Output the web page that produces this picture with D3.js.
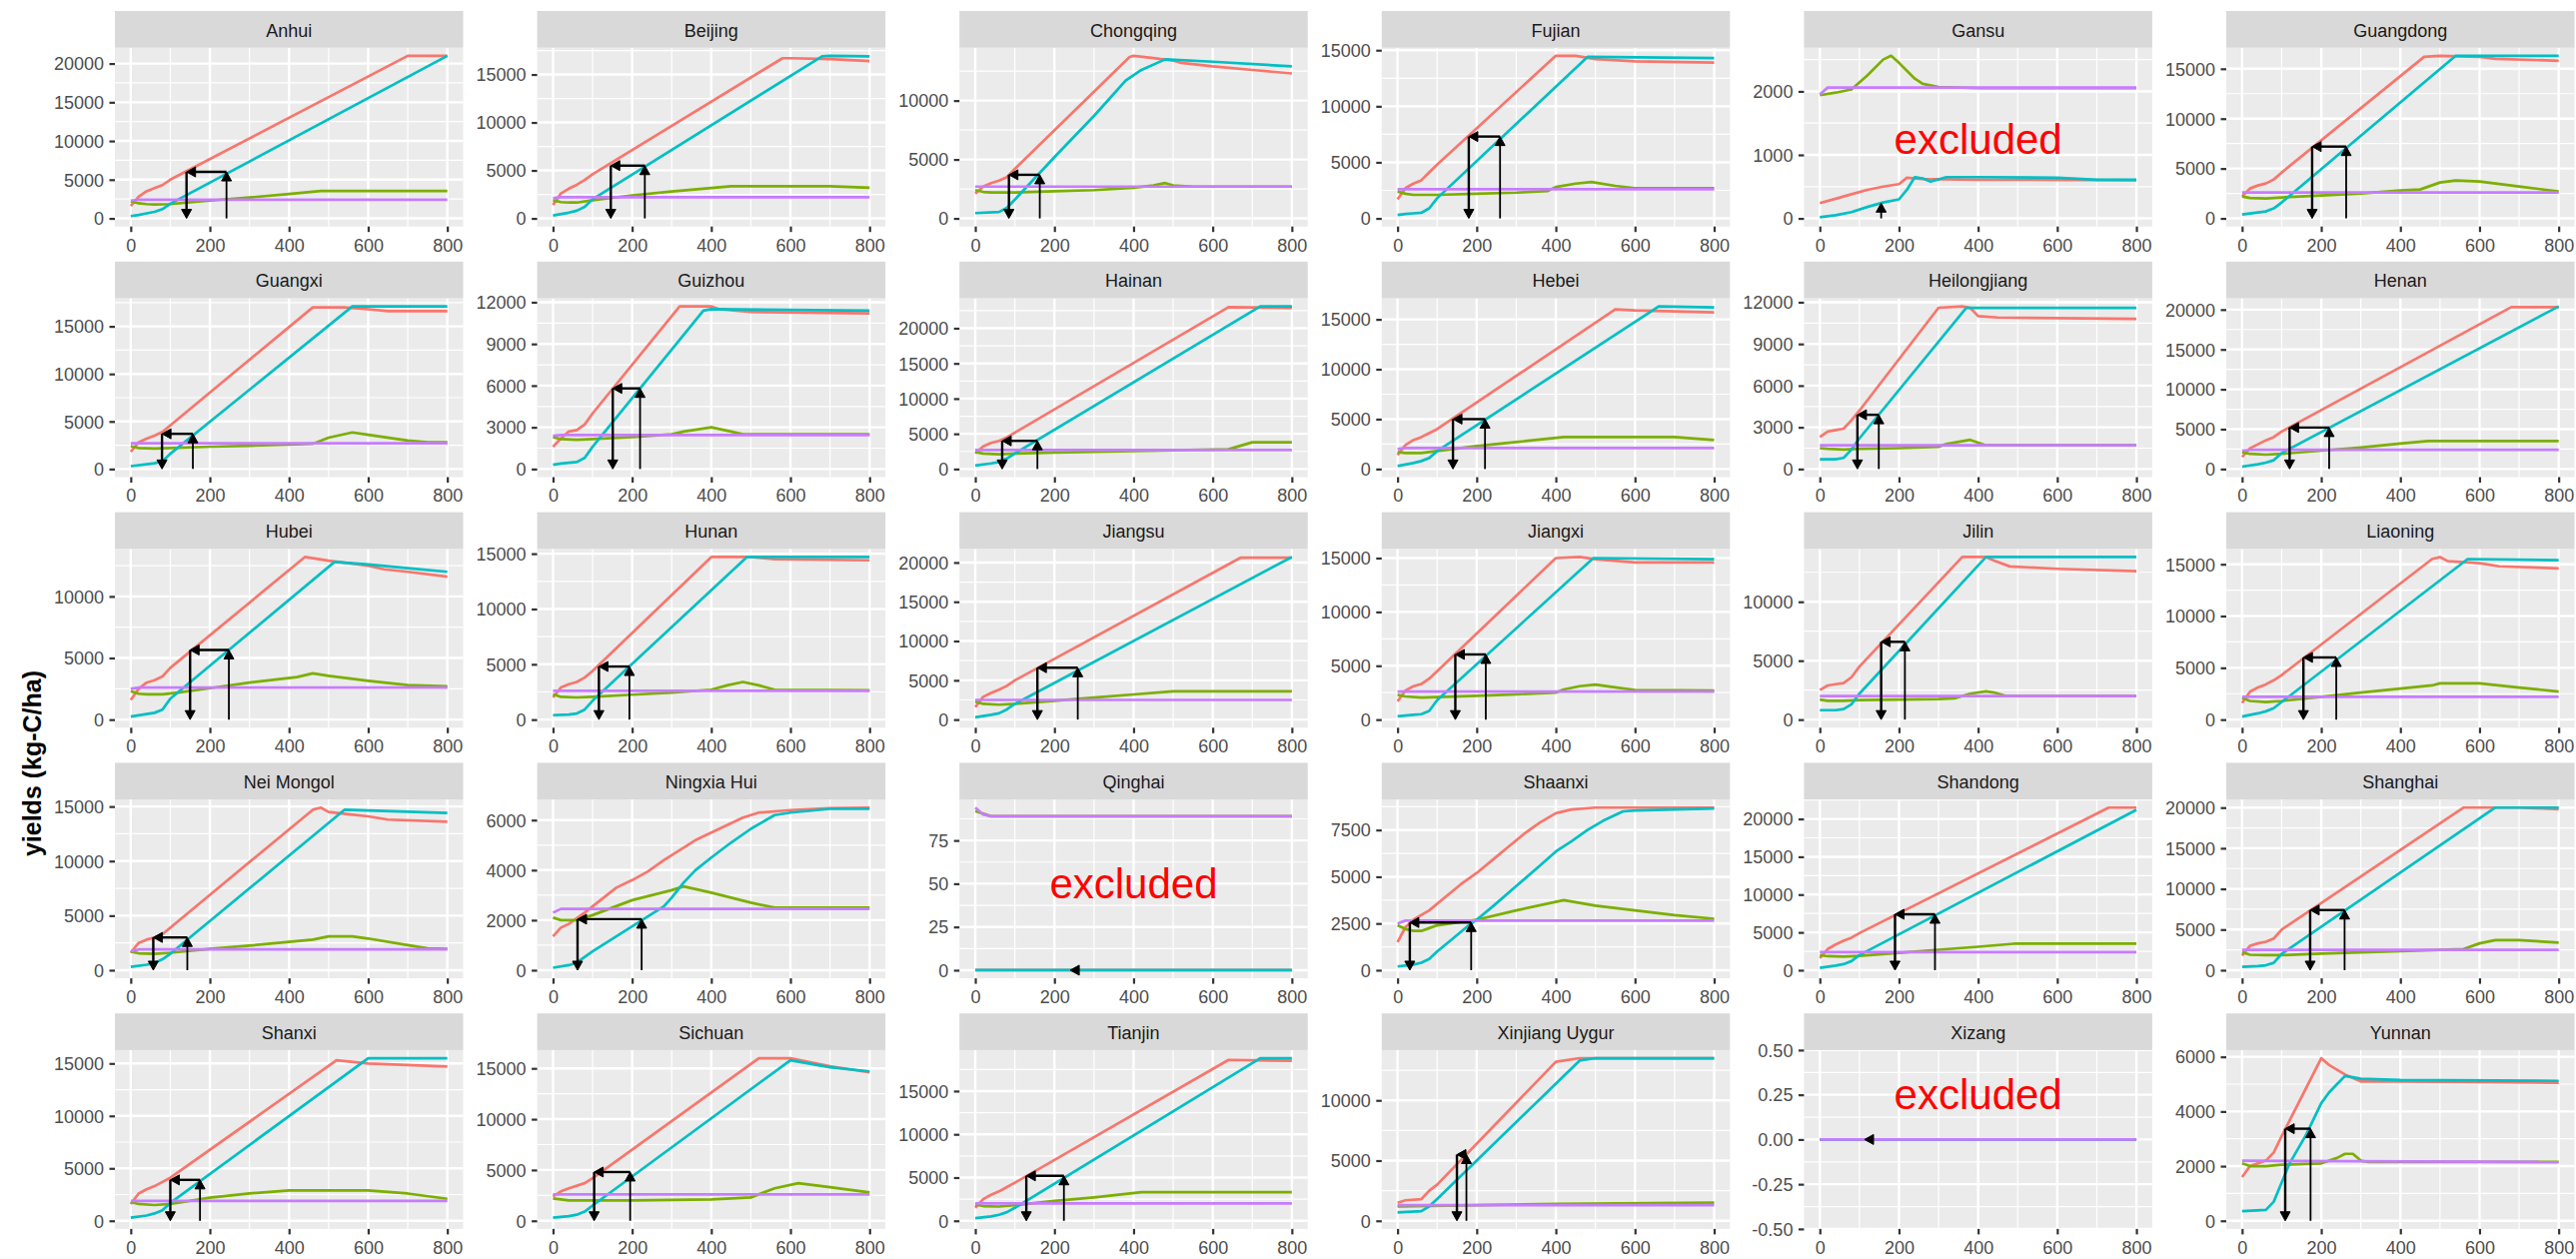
<!DOCTYPE html>
<html><head><meta charset="utf-8">
<script src="https://cdn.jsdelivr.net/npm/d3@7"></script>
<style>body{margin:0;background:#fff}svg{display:block}</style>
</head><body>
<svg id="c" width="2578" height="1260"></svg>
<script>
const provinces = ["Anhui","Beijing","Chongqing","Fujian","Gansu","Guangdong","Guangxi","Guizhou","Hainan","Hebei","Heilongjiang","Henan","Hubei","Hunan","Jiangsu","Jiangxi","Jilin","Liaoning","Nei Mongol","Ningxia Hui","Qinghai","Shaanxi","Shandong","Shanghai","Shanxi","Sichuan","Tianjin","Xinjiang Uygur","Xizang","Yunnan"];

const xTicks = [0,200,400,600,800];

const yTickLabels = [
 ["0","5000","10000","15000","20000"],["0","5000","10000","15000"],["0","5000","10000"],["0","5000","10000","15000"],["0","1000","2000"],["0","5000","10000","15000"],
 ["0","5000","10000","15000"],["0","3000","6000","9000","12000"],["0","5000","10000","15000","20000"],["0","5000","10000","15000"],["0","3000","6000","9000","12000"],["0","5000","10000","15000","20000"],
 ["0","5000","10000"],["0","5000","10000","15000"],["0","5000","10000","15000","20000"],["0","5000","10000","15000"],["0","5000","10000"],["0","5000","10000","15000"],
 ["0","5000","10000","15000"],["0","2000","4000","6000"],["0","25","50","75"],["0","2500","5000","7500"],["0","5000","10000","15000","20000"],["0","5000","10000","15000","20000"],
 ["0","5000","10000","15000"],["0","5000","10000","15000"],["0","5000","10000","15000"],["0","5000","10000"],["-0.50","-0.25","0.00","0.25","0.50"],["0","2000","4000","6000"]
];

const redSeries = [
 [[0,1600],[20,2800],[40,3500],[60,3900],[80,4300],[100,5000],[700,21000],[800,21000]],
 [[0,1400],[20,2600],[40,3100],[60,3500],[80,4000],[100,4600],[580,16700],[600,16700],[700,16600],[800,16400]],
 [[0,2100],[20,2700],[40,3000],[60,3200],[80,3500],[100,4200],[390,13700],[400,13800],[450,13600],[500,13400],[520,13200],[600,12900],[700,12600],[800,12300]],
 [[0,1700],[20,2700],[40,3100],[60,3400],[80,4100],[100,4800],[400,14500],[450,14500],[500,14200],[600,14000],[800,13900]],
 [[0,240],[40,310],[80,380],[120,450],[160,500],[200,540],[220,640],[260,620],[400,610],[800,600]],
 [[0,2200],[20,3000],[40,3300],[60,3500],[80,3900],[100,4600],[460,16200],[500,16300],[600,16200],[640,16000],[800,15800]],
 [[0,1800],[20,2800],[40,3200],[60,3500],[80,3900],[460,17000],[540,17000],[600,16800],[650,16600],[800,16600]],
 [[0,1600],[20,2200],[40,2700],[60,2800],[80,3200],[100,4000],[320,11700],[400,11700],[420,11500],[500,11300],[800,11200]],
 [[0,2200],[20,3200],[40,3700],[60,4000],[80,4500],[640,23000],[800,22900]],
 [[0,1400],[20,2400],[40,2900],[60,3200],[80,3600],[100,4000],[550,16000],[600,15900],[700,15800],[800,15700]],
 [[0,2300],[20,2700],[40,2800],[60,2900],[80,3500],[100,4200],[300,11600],[360,11700],[380,11600],[400,11000],[450,10900],[800,10800]],
 [[0,1500],[20,2600],[40,3100],[60,3600],[80,4000],[100,4700],[680,20300],[800,20300]],
 [[0,1600],[20,2500],[40,3000],[60,3200],[80,3500],[100,4200],[440,13200],[500,12900],[600,12500],[640,12200],[700,12000],[800,11600]],
 [[0,2000],[20,2900],[40,3200],[60,3400],[80,3800],[100,4400],[400,14700],[500,14700],[560,14500],[800,14400]],
 [[0,1600],[20,2900],[40,3400],[60,3800],[80,4300],[100,5000],[670,20600],[800,20600]],
 [[0,1700],[20,2700],[40,3100],[60,3300],[80,3800],[100,4500],[400,15000],[460,15100],[500,14900],[600,14600],[800,14600]],
 [[0,2500],[20,2900],[40,3000],[60,3100],[80,3600],[100,4500],[360,13800],[420,13800],[440,13500],[480,13000],[600,12800],[800,12600]],
 [[0,1600],[20,2700],[40,3100],[60,3400],[80,3800],[100,4300],[480,15500],[500,15700],[520,15300],[600,15100],[650,14800],[800,14600]],
 [[0,1600],[20,2500],[40,2800],[60,3000],[80,3300],[460,14700],[480,14900],[500,14500],[550,14300],[600,14100],[650,13800],[800,13600]],
 [[0,1350],[20,1700],[40,1850],[80,2300],[120,2800],[160,3300],[200,3600],[240,3950],[280,4400],[320,4800],[360,5200],[400,5500],[440,5800],[480,6100],[520,6300],[600,6400],[700,6480],[800,6500]],
 [[0,0],[800,0]],
 [[0,1500],[20,2300],[40,2700],[80,3200],[120,3900],[160,4600],[200,5200],[240,5900],[280,6600],[320,7300],[360,7900],[400,8400],[440,8600],[500,8700],[800,8700]],
 [[0,1600],[20,2800],[40,3400],[60,3900],[80,4300],[100,4900],[730,21500],[800,21500]],
 [[0,1800],[20,3000],[40,3300],[60,3500],[80,3900],[100,5000],[560,20000],[700,20000],[800,19800]],
 [[0,1600],[20,2600],[40,3000],[60,3300],[80,3700],[100,4100],[520,15300],[600,15000],[800,14700]],
 [[0,2400],[20,2900],[40,3200],[80,3700],[100,4200],[520,16000],[600,16000],[700,15200],[800,14600]],
 [[0,1500],[20,2500],[40,3000],[60,3400],[80,3900],[100,4400],[640,18600],[800,18500]],
 [[0,1500],[20,1700],[60,1800],[80,2500],[100,3000],[400,13200],[460,13500],[800,13500]],
 [[0,0],[800,0]],
 [[0,1600],[20,2000],[40,2100],[60,2200],[80,2500],[100,3100],[200,5950],[220,5700],[260,5350],[300,5100],[400,5100],[800,5050]]
];

const cyanSeries = [
 [[0,300],[20,450],[40,650],[60,850],[80,1200],[100,1900],[800,21000]],
 [[0,300],[40,600],[60,800],[80,1200],[100,2000],[680,16900],[700,16950],[800,16900]],
 [[0,450],[60,550],[80,900],[100,1600],[200,5200],[300,8700],[380,11700],[420,12600],[480,13500],[600,13300],[800,12900]],
 [[0,300],[20,400],[40,450],[60,500],[80,900],[100,1800],[480,14400],[800,14300]],
 [[0,20],[40,50],[80,100],[120,180],[160,250],[200,300],[220,450],[240,650],[260,630],[280,580],[320,650],[400,650],[600,640],[700,610],[800,610]],
 [[0,400],[40,600],[60,700],[80,1000],[100,1600],[540,16300],[800,16300]],
 [[0,300],[40,500],[60,600],[80,800],[100,1600],[560,17100],[800,17100]],
 [[0,300],[20,400],[40,450],[60,500],[80,800],[100,1600],[380,11400],[400,11500],[800,11400]],
 [[0,500],[40,800],[60,1000],[80,1500],[100,2200],[720,23100],[800,23100]],
 [[0,300],[40,600],[60,800],[80,1100],[100,1800],[660,16300],[800,16200]],
 [[0,700],[40,700],[60,800],[80,1400],[100,2200],[370,11600],[800,11600]],
 [[0,300],[40,600],[60,800],[80,1100],[100,2000],[800,20400]],
 [[0,250],[40,450],[60,550],[80,800],[100,1700],[515,12800],[600,12600],[700,12300],[800,12000]],
 [[0,400],[40,450],[60,550],[80,900],[100,1700],[490,14700],[800,14700]],
 [[0,300],[40,600],[60,800],[80,1300],[100,2000],[800,20700]],
 [[0,300],[40,450],[60,500],[80,800],[100,1800],[495,15000],[800,14900]],
 [[0,800],[40,800],[60,900],[80,1300],[100,2200],[420,13800],[800,13800]],
 [[0,300],[40,600],[60,800],[80,1100],[100,1700],[570,15500],[800,15400]],
 [[0,300],[40,500],[60,650],[80,1000],[100,1500],[540,14700],[800,14400]],
 [[0,100],[40,200],[60,300],[100,750],[150,1250],[200,1750],[240,2150],[280,2550],[300,2900],[330,3500],[360,4000],[400,4500],[450,5100],[500,5650],[560,6200],[600,6300],[700,6450],[800,6450]],
 [[0,0],[800,0]],
 [[0,200],[40,300],[60,400],[80,600],[100,1000],[140,1700],[180,2400],[200,2700],[240,3400],[300,4500],[360,5600],[400,6350],[440,6900],[480,7500],[520,8000],[570,8500],[600,8550],[800,8650]],
 [[0,300],[40,600],[60,800],[80,1200],[100,2000],[800,21200]],
 [[0,400],[40,500],[60,600],[80,900],[100,2000],[640,20000],[800,20000]],
 [[0,300],[40,500],[60,700],[80,1000],[100,1700],[600,15500],[800,15500]],
 [[0,300],[40,450],[60,600],[80,900],[100,1500],[600,15800],[700,15100],[800,14700]],
 [[0,300],[40,500],[60,700],[80,1000],[100,1500],[720,18800],[800,18800]],
 [[0,700],[60,800],[80,1200],[100,1800],[460,13300],[500,13500],[800,13500]],
 [[0,0],[800,0]],
 [[0,350],[60,400],[80,700],[100,1400],[120,2100],[140,2600],[160,3100],[180,3700],[200,4300],[220,4700],[240,5000],[260,5300],[280,5250],[300,5200],[400,5150],[800,5120]]
];

const greenSeries = [
 [[0,2200],[20,1950],[40,1850],[60,1800],[100,1850],[150,2100],[200,2300],[300,2700],[400,3150],[480,3550],[800,3550]],
 [[0,1900],[20,1700],[40,1650],[60,1650],[100,1900],[200,2400],[300,2800],[450,3350],[700,3350],[800,3200]],
 [[0,2400],[20,2250],[40,2200],[100,2200],[200,2300],[300,2400],[400,2600],[450,2800],[480,3000],[500,2800],[550,2700],[800,2700]],
 [[0,2400],[20,2200],[40,2100],[100,2100],[200,2200],[300,2300],[380,2450],[400,2800],[450,3100],[490,3250],[550,2900],[600,2700],[800,2700]],
 [[0,1940],[40,1980],[80,2030],[120,2250],[160,2500],[180,2560],[200,2450],[240,2200],[260,2120],[300,2070],[400,2050],[800,2050]],
 [[0,2200],[20,2050],[60,2000],[100,2100],[200,2300],[300,2500],[400,2800],[450,2900],[500,3600],[540,3800],[600,3700],[700,3200],[800,2700]],
 [[0,2400],[20,2200],[60,2150],[100,2200],[200,2350],[300,2450],[460,2650],[500,3300],[560,3850],[600,3600],[700,3000],[750,2800],[800,2800]],
 [[0,2300],[20,2150],[60,2100],[100,2150],[200,2300],[300,2500],[330,2700],[400,3000],[450,2700],[480,2500],[800,2500]],
 [[0,2400],[20,2200],[60,2100],[100,2200],[200,2350],[400,2550],[640,2800],[700,3800],[800,3800]],
 [[0,1700],[20,1600],[60,1600],[100,1800],[200,2300],[300,2700],[420,3200],[700,3200],[800,2900]],
 [[0,1500],[20,1450],[60,1400],[100,1450],[200,1500],[300,1600],[320,1800],[380,2100],[400,1900],[420,1700],[800,1700]],
 [[0,2100],[20,1900],[60,1800],[100,1900],[200,2300],[300,2700],[400,3200],[470,3500],[800,3500]],
 [[0,2300],[20,2100],[40,2050],[80,2050],[120,2200],[200,2550],[300,3000],[420,3450],[460,3750],[500,3550],[600,3150],[700,2800],[800,2700]],
 [[0,2300],[20,2050],[60,2000],[100,2050],[200,2250],[300,2450],[400,2700],[440,3100],[480,3400],[520,3100],[560,2700],[800,2650]],
 [[0,2300],[20,2000],[60,1900],[100,2000],[200,2400],[300,2800],[400,3200],[500,3600],[800,3600]],
 [[0,2300],[20,2150],[60,2050],[100,2100],[200,2200],[300,2350],[400,2500],[420,2800],[460,3100],[500,3250],[540,3050],[600,2750],[800,2700]],
 [[0,1700],[20,1600],[60,1600],[100,1650],[200,1700],[300,1750],[340,1800],[380,2200],[420,2400],[440,2300],[470,2000],[800,2000]],
 [[0,2100],[20,1800],[60,1700],[100,1800],[200,2200],[300,2600],[400,3000],[480,3300],[500,3500],[600,3500],[700,3100],[800,2700]],
 [[0,1700],[20,1550],[60,1500],[100,1600],[200,1950],[300,2250],[400,2600],[460,2800],[500,3100],[560,3100],[600,2900],[700,2300],[750,2000],[800,1950]],
 [[0,2100],[20,2000],[60,2000],[100,2200],[200,2800],[300,3200],[330,3350],[400,3100],[500,2700],[560,2500],[800,2500]],
 [[0,92],[40,89],[800,89]],
 [[0,2400],[20,2200],[40,2100],[60,2100],[80,2250],[100,2400],[200,2700],[300,3200],[420,3750],[500,3450],[600,3200],[700,2950],[800,2750]],
 [[0,2000],[20,1850],[60,1800],[100,1900],[200,2300],[300,2700],[400,3100],[490,3500],[800,3500]],
 [[0,2200],[20,1900],[60,1850],[100,1850],[200,2050],[300,2200],[400,2350],[560,2600],[600,3300],[640,3700],[700,3700],[800,3400]],
 [[0,1800],[20,1600],[60,1500],[100,1600],[200,2200],[300,2600],[400,2900],[600,2900],[700,2600],[800,2100]],
 [[0,2200],[40,2000],[100,2000],[200,2000],[400,2100],[500,2300],[560,3200],[620,3700],[700,3300],[800,2800]],
 [[0,1900],[20,1700],[60,1650],[100,1800],[200,2300],[300,2700],[420,3300],[800,3300]],
 [[0,1200],[200,1300],[400,1400],[800,1500]],
 [[0,0],[800,0]],
 [[0,2100],[20,2000],[60,2000],[100,2050],[200,2100],[240,2300],[260,2450],[280,2450],[300,2200],[320,2150],[800,2150]]
];

const purpleSeries = [
 [[0,2300],[20,2400],[800,2400]],[[0,2100],[20,2200],[800,2200]],[[0,2700],[800,2700]],[[0,2600],[800,2600]],[[0,1950],[20,2060],[800,2060]],[[0,2600],[800,2600]],
 [[0,2700],[800,2700]],[[0,2400],[20,2450],[800,2450]],[[0,2700],[800,2700]],[[0,2000],[20,2100],[800,2100]],[[0,1700],[800,1700]],[[0,2300],[20,2400],[800,2400]],
 [[0,2500],[20,2600],[800,2600]],[[0,2600],[800,2600]],[[0,2500],[800,2500]],[[0,2600],[800,2600]],[[0,2000],[800,2000]],[[0,2200],[800,2200]],
 [[0,1750],[20,1900],[800,1900]],[[0,2300],[20,2450],[800,2450]],[[0,94],[20,90],[40,89],[800,89]],[[0,2500],[20,2650],[800,2650]],[[0,2400],[800,2400]],[[0,2500],[800,2500]],
 [[0,1900],[800,1900]],[[0,2600],[800,2600]],[[0,2000],[800,2000]],[[0,1300],[800,1300]],[[0,0],[800,0]],[[0,2200],[800,2150]]
];

// arrows: kind, left x, right x, level
const arrowKind = ["full","full","full","full","up","full","full","full","full","full","full","full","full","full","full","full","full","full","full","full","left","full","full","full","full","full","full","full","left","full"];
const arrowLeftX = [141,146,85,180,155,177,79,151,68,140,95,120,150,116,157,146,155,155,57,62,240,31,190,172,100,104,129,150,113,109];
const arrowRightX = [242,232,163,259,155,263,157,220,157,221,149,220,248,193,259,223,215,238,143,224,240,186,291,259,175,195,224,174,113,173];
const arrowLevel = [6000,5500,3700,7300,240,7200,3700,5800,4000,5000,3900,5200,5650,4800,6600,6050,6600,6000,3000,2040,0,2550,7400,7400,3900,4800,5200,5500,0,3370];

const excludedY = [null,null,null,null,1250,null,null,null,null,null,null,null,null,null,null,null,null,null,null,null,50,null,null,null,null,null,null,null,0.25,null];

const colors = {red:"#F8766D", green:"#7CAE00", cyan:"#00BFC4", purple:"#C77CFF"};

// ---- layout ----
const LEFT0=115, COLP=422.6, PW=348.5, TOP0=11, ROWP=250.8, STRIPH=36.7, PH=179;
const FAM='"Liberation Sans", Arial, Helvetica, sans-serif';
const svg=d3.select("#c");
svg.append("rect").attr("width",2578).attr("height",1260).attr("fill","#fff");

function arrow(g,x0,y0,x1,y1,w){
  const L=9, hw=5;
  const dx=x1-x0, dy=y1-y0, len=Math.hypot(dx,dy);
  let ux=-1,uy=0; if(len>0.01){ux=dx/len;uy=dy/len;}
  if(len>L){
    g.append("line").attr("x1",x0).attr("y1",y0).attr("x2",x1-ux*L*0.6).attr("y2",y1-uy*L*0.6)
     .attr("stroke","#000").attr("stroke-width",w);
  }
  const bx=x1-ux*L, by=y1-uy*L;
  g.append("path").attr("d",`M${x1},${y1}L${bx-uy*hw},${by+ux*hw}L${bx+uy*hw},${by-ux*hw}Z`)
   .attr("fill","#000").attr("stroke","#000").attr("stroke-width",1).attr("stroke-linejoin","miter");
}

provinces.forEach((name,i)=>{
  const r=Math.floor(i/6), c=i%6;
  const px=LEFT0+c*COLP, sy=TOP0+r*ROWP, py=sy+STRIPH;
  const g=svg.append("g");
  const x=d3.scaleLinear().domain([-40,840]).range([px,px+PW]);
  const labels=yTickLabels[i], tvals=labels.map(Number);
  const vals=[...redSeries[i],...greenSeries[i],...cyanSeries[i],...purpleSeries[i]].map(d=>d[1]);
  if(arrowKind[i]!=="none"){vals.push(0,arrowLevel[i]);}
  const lo=d3.min(vals), hi=d3.max(vals);
  const dom = (hi-lo===0)?[lo-0.5,hi+0.5]:[lo-(hi-lo)*0.05, hi+(hi-lo)*0.05];
  const y=d3.scaleLinear().domain(dom).range([py+PH,py]);

  g.append("rect").attr("x",px).attr("y",py).attr("width",PW).attr("height",PH).attr("fill","#EBEBEB");
  const step=tvals[1]-tvals[0];
  const ext=[tvals[0]-step,...tvals,tvals[tvals.length-1]+step];
  const yMinor=[]; for(let k=0;k<ext.length-1;k++){const m=(ext[k]+ext[k+1])/2; if(m>dom[0]&&m<dom[1]) yMinor.push(m);}
  const xMinor=[100,300,500,700];
  g.selectAll(null).data(yMinor).join("line").attr("x1",px).attr("x2",px+PW).attr("y1",d=>y(d)).attr("y2",d=>y(d)).attr("stroke","#fff").attr("stroke-width",1.2);
  g.selectAll(null).data(xMinor).join("line").attr("y1",py).attr("y2",py+PH).attr("x1",d=>x(d)).attr("x2",d=>x(d)).attr("stroke","#fff").attr("stroke-width",1.2);
  g.selectAll(null).data(tvals).join("line").attr("x1",px).attr("x2",px+PW).attr("y1",d=>y(d)).attr("y2",d=>y(d)).attr("stroke","#fff").attr("stroke-width",2.4);
  g.selectAll(null).data(xTicks).join("line").attr("y1",py).attr("y2",py+PH).attr("x1",d=>x(d)).attr("x2",d=>x(d)).attr("stroke","#fff").attr("stroke-width",2.4);

  const line=d3.line().x(d=>x(d[0])).y(d=>y(d[1]));
  [["red",redSeries],["green",greenSeries],["cyan",cyanSeries],["purple",purpleSeries]].forEach(([k,s])=>{
    g.append("path").attr("d",line(s[i])).attr("fill","none").attr("stroke",colors[k]).attr("stroke-width",2.7).attr("stroke-linejoin","round");
  });

  const kind=arrowKind[i], xl=x(arrowLeftX[i]), xr=x(arrowRightX[i]), yl=y(arrowLevel[i]), y0=y(0);
  if(kind==="full"){
    arrow(g,xr,y0,xr,yl,1.8);
    arrow(g,xr,yl,xl,yl,2.4);
    arrow(g,xl,yl,xl,y0,2.4);
  } else if(kind==="up"){
    arrow(g,xr,y0,xr,yl,1.8);
  } else if(kind==="left"){
    arrow(g,xl+1,yl,xl,yl,2.4);
  }

  if(excludedY[i]!==null){
    g.append("text").attr("x",x(400)).attr("y",y(excludedY[i])).attr("text-anchor","middle")
     .attr("dominant-baseline","central").attr("font-family",FAM).attr("font-size",42).attr("fill","#FF0000").text("excluded");
  }

  g.append("rect").attr("x",px).attr("y",sy).attr("width",PW).attr("height",STRIPH).attr("fill","#D9D9D9");
  g.append("text").attr("x",px+PW/2).attr("y",sy+25.6).attr("text-anchor","middle").attr("font-family",FAM)
   .attr("font-size",18).attr("fill","#1A1A1A").text(name);

  const ya=g.append("g").attr("transform",`translate(${px},0)`)
    .call(d3.axisLeft(y).tickValues(tvals).tickFormat((d,j)=>labels[j]).tickSize(5.5).tickPadding(5.5));
  ya.select(".domain").remove();
  ya.selectAll("line").attr("stroke","#333333").attr("stroke-width",2.2);
  ya.selectAll("text").attr("font-family",FAM).attr("font-size",18).attr("fill","#4D4D4D").attr("dy","0.35em");
  const xa=g.append("g").attr("transform",`translate(0,${py+PH})`)
    .call(d3.axisBottom(x).tickValues(xTicks).tickFormat(d3.format("d")).tickSize(5.5).tickPadding(6.7));
  xa.select(".domain").remove();
  xa.selectAll("line").attr("stroke","#333333").attr("stroke-width",2.2);
  xa.selectAll("text").attr("font-family",FAM).attr("font-size",18).attr("fill","#4D4D4D");
});

svg.append("text").attr("transform","translate(32,764) rotate(-90)").attr("text-anchor","middle")
  .attr("dominant-baseline","central").attr("font-family",FAM).attr("font-weight","bold").attr("font-size",25)
  .attr("fill","#000").text("yields (kg-C/ha)");
</script>
</body></html>
